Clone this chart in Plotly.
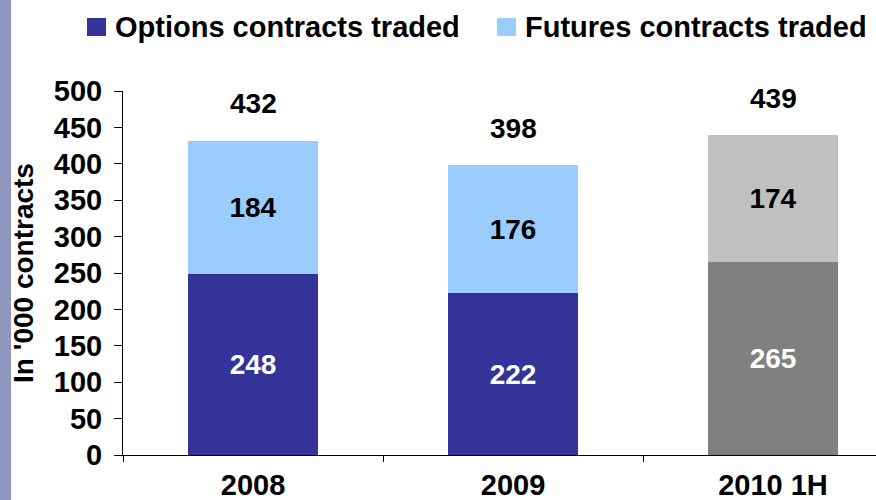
import plotly.graph_objects as go

# data
years = ["2008", "2009", "2010 1H"]
options_traded = [248, 222, 265]
futures_traded = [184, 176, 174]
totals = [432, 398, 439]
series_names = ["Options contracts traded", "Futures contracts traded"]

# 2010 1H is shown in grey (partial year)
options_colors = ["#333399", "#333399", "#808080"]
futures_colors = ["#99CCFF", "#99CCFF", "#C0C0C0"]

FONT = "Arial, 'Liberation Sans', sans-serif"
W, H = 876, 500
L, R, T, B = 123, 0, 91, 45
PW, PH = W - L - R, H - T - B


def px_x(x):
    return (x - L) / PW


def px_y(y):
    return 1 - (y - T) / PH


fig = go.Figure()
fig.add_trace(go.Bar(
    x=years, y=options_traded, name=series_names[0],
    marker=dict(color=options_colors, line=dict(width=0)),
    text=options_traded, textposition="inside", insidetextanchor="middle",
    textangle=0,
    textfont=dict(family=FONT, size=28, color="white", weight="bold"),
    width=0.5, showlegend=False,
))
fig.add_trace(go.Bar(
    x=years, y=futures_traded, name=series_names[1],
    marker=dict(color=futures_colors, line=dict(width=0)),
    text=futures_traded, textposition="inside", insidetextanchor="middle",
    textangle=0,
    textfont=dict(family=FONT, size=28, color="black", weight="bold"),
    width=0.5, showlegend=False,
))

# totals above bars (category index, since "2008" would be read as a number)
for i, tot in enumerate(totals):
    fig.add_annotation(x=i, y=tot, text="<b>%d</b>" % tot, showarrow=False,
                       yshift=37, font=dict(family=FONT, size=28, color="black"))

# hand-made legend
legend_items = [(87, 113, options_colors[0], series_names[0]),
                (497, 523, futures_colors[0], series_names[1])]
for sq_x, tx_x, col, name in legend_items:
    fig.add_shape(type="rect", xref="paper", yref="paper",
                  x0=px_x(sq_x), x1=px_x(sq_x + 19), y0=px_y(36), y1=px_y(18),
                  fillcolor=col, line=dict(width=0))
    fig.add_annotation(xref="paper", yref="paper", x=px_x(tx_x), y=px_y(27),
                       xanchor="left", yanchor="middle", showarrow=False,
                       text="<b>%s</b>" % name,
                       font=dict(family=FONT, size=29, color="black"))

# left decorative band
fig.add_shape(type="rect", xref="paper", yref="paper",
              x0=px_x(0), x1=px_x(11), y0=px_y(H), y1=px_y(0),
              fillcolor="#8F97BF", line=dict(width=0), layer="below")

fig.update_layout(
    barmode="stack",
    width=W, height=H,
    margin=dict(l=L, r=R, t=T, b=B),
    paper_bgcolor="white", plot_bgcolor="white",
    font=dict(family=FONT, size=29, color="black"),
    showlegend=False,
    xaxis=dict(
        type="category", range=[-0.5, -0.5 + PW / 260], automargin=False,
        showline=True, linecolor="black", linewidth=1,
        ticks="outside", tickson="boundaries", ticklen=6, tickcolor="black",
        tickfont=dict(family=FONT, size=29, weight="bold"),
        ticklabelstandoff=4, showgrid=False, zeroline=False,
    ),
    yaxis=dict(
        range=[0, 500], dtick=50, automargin=False,
        showline=True, linecolor="black", linewidth=1,
        ticks="outside", ticklen=8, tickcolor="black",
        tickfont=dict(family=FONT, size=29, weight="bold"),
        ticklabelstandoff=6, showgrid=False, zeroline=False,
        title=dict(text="<b>In '000 contracts</b>", standoff=12,
                   font=dict(family=FONT, size=28)),
    ),
)

# drop the browser's default body margin so the figure sits at the page corner
fig.write_html("out.html", config={"displayModeBar": False},
               post_script="document.body.style.margin='0';")
